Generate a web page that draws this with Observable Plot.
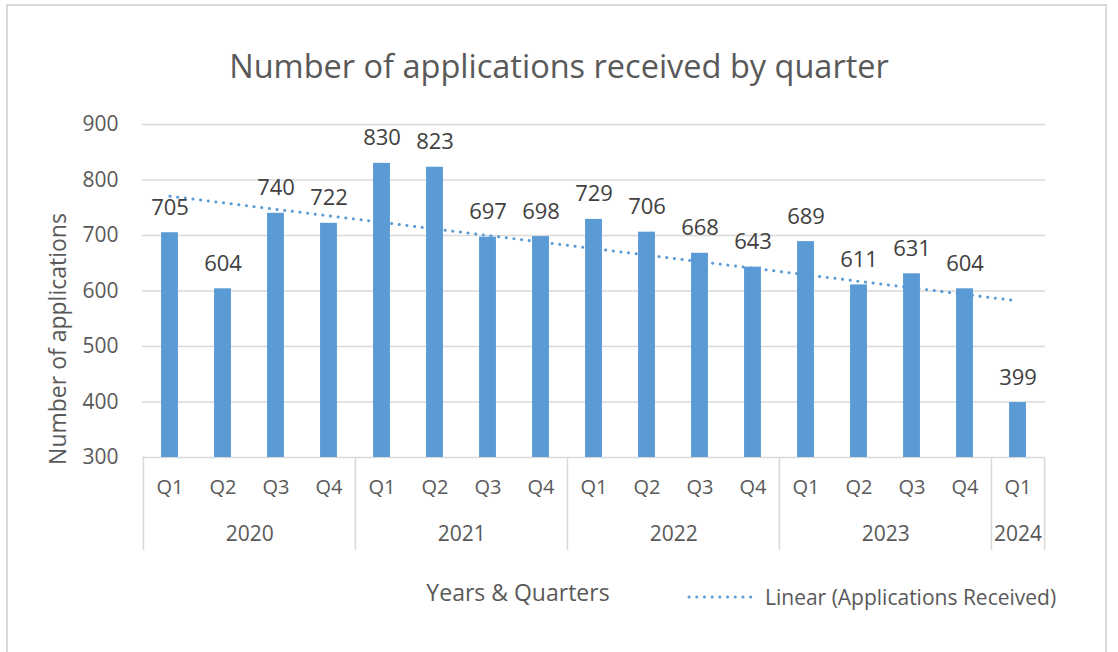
<!DOCTYPE html>
<html>
<head>
<meta charset="utf-8">
<script src="https://cdn.jsdelivr.net/npm/d3@7"></script>
<script src="https://cdn.jsdelivr.net/npm/@observablehq/plot@0.6"></script>
<style>
  html, body { margin: 0; padding: 0; background: #fff; }
  #page { position: relative; width: 1118px; height: 652px; overflow: hidden; font-family: "Open Sans", sans-serif; color: #595959; }
  #frame { position: absolute; left: 6px; top: 4px; width: 1101px; height: 660px; border: 2px solid #d9d9d9; box-sizing: border-box; }
  #title { position: absolute; left: 0; width: 1118px; top: 44px; text-align: center; font-size: 32.5px; line-height: 44px; color: #595959; }
  #chart { position: absolute; left: 0; top: 100px; }
  #xtitle { position: absolute; left: 368px; width: 300px; top: 577px; text-align: center; font-size: 23px; line-height: 30px; }
  #legend { position: absolute; left: 686px; top: 582px; display: flex; align-items: center; font-size: 21px; line-height: 30px; }
  #legend svg { margin-right: 5px; }
</style>
</head>
<body>
<div id="page">
  <div id="frame"></div>
  <div id="title">Number of applications received by quarter</div>
  <div id="chart"></div>
  <div id="xtitle">Years &amp; Quarters</div>
  <div id="legend"><svg width="74" height="6"><line x1="3" y1="3" x2="71" y2="3" stroke="#5B9BD5" stroke-width="3" stroke-linecap="round" stroke-dasharray="0.1 7.6"/></svg><span>Linear (Applications Received)</span></div>
</div>
<script>
// ---- data ----
const years    = ["2020","2020","2020","2020","2021","2021","2021","2021","2022","2022","2022","2022","2023","2023","2023","2023","2024"];
const quarters = ["Q1","Q2","Q3","Q4","Q1","Q2","Q3","Q4","Q1","Q2","Q3","Q4","Q1","Q2","Q3","Q4","Q1"];
const applications = [705,604,740,722,830,823,697,698,729,706,668,643,689,611,631,604,399];
const yTicks = [300,400,500,600,700,800,900];

// ---- table ----
const data = applications.map((v, i) => ({key: years[i] + " " + quarters[i], year: years[i], quarter: quarters[i], value: v, i}));

// Linear trendline (least squares, as Excel's "Linear" trendline)
const n = data.length;
const mx = d3.mean(data, d => d.i), my = d3.mean(data, d => d.value);
const slope = d3.sum(data, d => (d.i - mx) * (d.value - my)) / d3.sum(data, d => (d.i - mx) ** 2);
const trend = data.map(d => ({key: d.key, value: my + slope * (d.i - mx)}));

// year groups
const yearGroups = d3.groups(data, d => d.year).map(([y, rows]) => ({year: y, first: rows[0].key, last: rows[rows.length - 1].key, count: rows.length}));

// ---- layout ----
const W = 1118, H = 460;
const mL = 142, mR = 73, mT = 24, mB = 103;
const step = (W - mL - mR) / n;
const barW = 17;
const frameH = H - mT - mB;
const gray = "#595959", grid = "#d9d9d9", blue = "#5B9BD5";

const marks = [
  Plot.ruleY(yTicks, {y: d => d, stroke: grid, strokeWidth: 1.5}),
  Plot.barY(data, {x: "key", y1: 300, y2: "value", fill: blue, insetLeft: (step - barW) / 2, insetRight: (step - barW) / 2}),
  Plot.lineY(trend, {x: "key", y: "value", stroke: blue, strokeWidth: 3, strokeLinecap: "round", strokeDasharray: "0.1 7.6"}),
  Plot.text(data, {x: "key", y: "value", text: d => String(d.value), dy: -25, fill: "#404040", fontSize: 22}),
  // category axis: quarter labels
  Plot.text(data, {x: "key", text: "quarter", frameAnchor: "bottom", dy: 36, fill: gray, fontSize: 20}),
  // year separators
  Plot.ruleX(yearGroups, {x: "first", dx: -step / 2, stroke: grid, strokeWidth: 1.5, insetTop: frameH, insetBottom: -93}),
  Plot.ruleX(yearGroups.slice(-1), {x: "last", dx: step / 2, stroke: grid, strokeWidth: 1.5, insetTop: frameH, insetBottom: -93}),
  // y axis labels
  Plot.axisY(yTicks, {tickSize: 0, tickPadding: 24, fontSize: 21, fill: gray, label: null}),
  Plot.text(["Number of applications"], {frameAnchor: "left", textAnchor: "middle", rotate: -90, dx: -84, dy: 48, fill: gray, fontSize: 23}),
];
// year labels centred under their quarters
for (const g of yearGroups) {
  marks.push(Plot.text([g], {x: "first", text: "year", frameAnchor: "bottom", dy: 83, dx: (g.count - 1) * step / 2, fill: gray, fontSize: 21}));
}

const chart = Plot.plot({
  width: W, height: H,
  marginLeft: mL, marginRight: mR, marginTop: mT, marginBottom: mB,
  style: {fontFamily: "'Open Sans', sans-serif", background: "transparent", overflow: "visible"},
  x: {type: "band", domain: data.map(d => d.key), padding: 0, axis: null},
  y: {domain: [300, 900], axis: null},
  marks
});
document.getElementById("chart").appendChild(chart);
</script>
</body>
</html>
